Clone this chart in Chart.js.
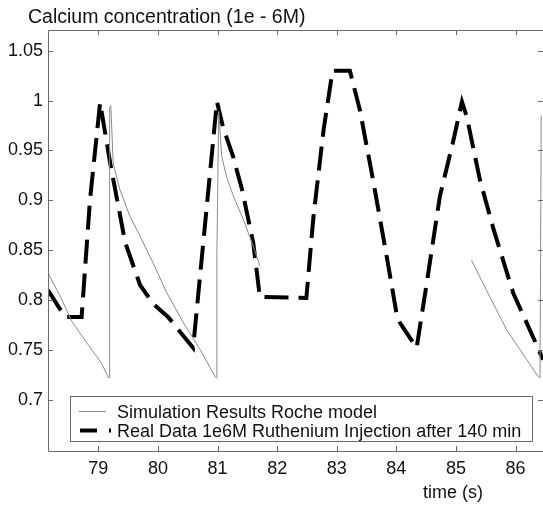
<!DOCTYPE html>
<html>
<head>
<meta charset="utf-8">
<script src="https://cdn.jsdelivr.net/npm/chart.js@4.4.1/dist/chart.umd.min.js"></script>
<style>
html,body{margin:0;padding:0;background:#fff;}
canvas{display:block;}
</style>
</head>
<body>
<canvas id="c" width="543" height="506"></canvas>
<script>
// ---- data ----
const titleText = 'Calcium concentration (1e - 6M)';
const xAxisText = 'time (s)';
const seriesNames = ['Simulation Results Roche model', 'Real Data 1e6M Ruthenium Injection after 140 min'];

const xTicks = [79, 80, 81, 82, 83, 84, 85, 86];
const yTicks = [0.7, 0.75, 0.8, 0.85, 0.9, 0.95, 1, 1.05];

const simTime = [78.156, 78.36, 78.55, 78.83, 79.05, 79.17, 79.18, 79.19, 79.21, 79.25, 79.36, 79.53, 79.70, 79.92, 80.15, 80.43, 80.71, 80.96, 80.98, 80.99, 81.02, 81.07, 81.15, 81.26, 81.43, 81.60, 81.71, 83.50, 85.26, 85.51, 85.85, 86.19, 86.38, 86.41, 86.43];
const simCa   = [0.827, 0.804, 0.779, 0.755, 0.737, 0.722, 0.722, 0.993, 0.995, 0.937, 0.911, 0.884, 0.864, 0.837, 0.807, 0.777, 0.750, 0.723, 0.722, 0.850, 0.989, 0.944, 0.924, 0.905, 0.881, 0.854, 0.834, null, 0.840, 0.810, 0.770, 0.740, 0.723, 0.722, 0.985];

const realTime = [78.156, 78.44, 78.72, 78.86, 79.03, 79.20, 79.45, 79.70, 79.92, 80.17, 80.59, 80.76, 80.99, 81.09, 81.26, 81.41, 81.60, 81.71, 82.49, 82.61, 82.78, 82.93, 83.22, 83.39, 83.61, 83.84, 84.01, 84.06, 84.34, 84.51, 84.73, 84.96, 85.10, 85.18, 85.40, 85.63, 85.96, 86.36, 86.46];
const realCa   = [0.810, 0.783, 0.783, 0.900, 0.998, 0.937, 0.858, 0.815, 0.796, 0.783, 0.752, 0.857, 0.999, 0.974, 0.944, 0.911, 0.857, 0.803, 0.802, 0.884, 0.971, 1.030, 1.030, 0.990, 0.920, 0.843, 0.784, 0.777, 0.752, 0.817, 0.904, 0.961, 0.999, 0.984, 0.921, 0.871, 0.807, 0.754, 0.740];

const FONT = '"Liberation Sans", Arial, Helvetica, sans-serif';
const toXY = (xs, ys) => xs.map((x, i) => ({x: x, y: ys[i]}));

const overlay = {
  id: 'overlay',
  afterDraw(chart) {
    const ctx = chart.ctx, a = chart.chartArea;
    const xs = chart.scales.x, ys = chart.scales.y;
    ctx.save();
    // frame
    ctx.strokeStyle = '#6a6a6a';
    ctx.lineWidth = 1;
    ctx.beginPath();
    ctx.moveTo(a.right, a.top + 0.5);
    ctx.lineTo(a.left + 0.5, a.top + 0.5);
    ctx.lineTo(a.left + 0.5, a.bottom + 0.5);
    ctx.lineTo(a.right, a.bottom + 0.5);
    ctx.stroke();
    // inward ticks
    ctx.beginPath();
    xTicks.forEach(v => {
      const px = Math.round(xs.getPixelForValue(v)) + 0.5;
      ctx.moveTo(px, a.bottom); ctx.lineTo(px, a.bottom - 5);
      ctx.moveTo(px, a.top); ctx.lineTo(px, a.top + 5);
    });
    yTicks.forEach(v => {
      const py = Math.round(ys.getPixelForValue(v)) + 0.5;
      ctx.moveTo(a.left, py); ctx.lineTo(a.left + 5, py);
      ctx.moveTo(a.right, py); ctx.lineTo(a.right - 5, py);
    });
    ctx.stroke();
    // legend box
    const lx = 70.5, ly = 396.5, lw = 462, lh = 45;
    ctx.fillStyle = '#fff';
    ctx.fillRect(lx, ly, lw, lh);
    ctx.strokeStyle = '#6a6a6a';
    ctx.strokeRect(lx, ly, lw, lh);
    // sample 1
    ctx.strokeStyle = '#8a8a8a';
    ctx.lineWidth = 1;
    ctx.beginPath(); ctx.moveTo(79, 411.5); ctx.lineTo(106, 411.5); ctx.stroke();
    // sample 2 (dash-dot)
    ctx.strokeStyle = '#000';
    ctx.lineWidth = 4;
    ctx.setLineDash([17, 12, 2, 12]);
    ctx.beginPath(); ctx.moveTo(80, 430.5); ctx.lineTo(112, 430.5); ctx.stroke();
    ctx.setLineDash([]);
    // texts
    ctx.fillStyle = '#111';
    ctx.textAlign = 'left';
    ctx.textBaseline = 'alphabetic';
    ctx.font = '18px ' + FONT;
    ctx.fillText(seriesNames[0], 117, 418);
    ctx.fillText(seriesNames[1], 117, 436.5);
    ctx.fillText(xAxisText, 423, 498);
    ctx.font = '19.5px ' + FONT;
    ctx.fillText(titleText, 28, 23);
    ctx.restore();
  }
};

new Chart(document.getElementById('c'), {
  type: 'line',
  data: {
    datasets: [
      {
        label: seriesNames[0],
        data: toXY(simTime, simCa),
        borderColor: '#8a8a8a',
        borderWidth: 1,
        pointRadius: 0,
        tension: 0,
        spanGaps: false
      },
      {
        label: seriesNames[1],
        data: toXY(realTime, realCa),
        borderColor: '#000',
        borderWidth: 4,
        borderDash: [24, 10],
        pointRadius: 0,
        tension: 0
      }
    ]
  },
  options: {
    responsive: false,
    animation: false,
    devicePixelRatio: 1,
    layout: {padding: {top: 30, left: 0, right: 0, bottom: 0}},
    plugins: {legend: {display: false}, tooltip: {enabled: false}},
    scales: {
      x: {
        type: 'linear',
        min: 78.156,
        max: 86.46,
        grid: {display: false, drawTicks: false},
        border: {display: false},
        ticks: {font: {size: 18, family: FONT}, color: '#111', padding: 7, maxRotation: 0, autoSkip: false, callback: v => String(v)},
        afterBuildTicks: s => { s.ticks = xTicks.map(v => ({value: v})); },
        afterFit: s => { s.height = 55; }
      },
      y: {
        type: 'linear',
        min: 0.6485,
        max: 1.0708,
        grid: {display: false, drawTicks: false},
        border: {display: false},
        ticks: {font: {size: 18, family: FONT}, color: '#111', padding: 5, autoSkip: false, callback: v => String(v)},
        afterBuildTicks: s => { s.ticks = yTicks.map(v => ({value: v})); },
        afterFit: s => { s.width = 48; }
      }
    }
  },
  plugins: [overlay]
});
</script>
</body>
</html>
